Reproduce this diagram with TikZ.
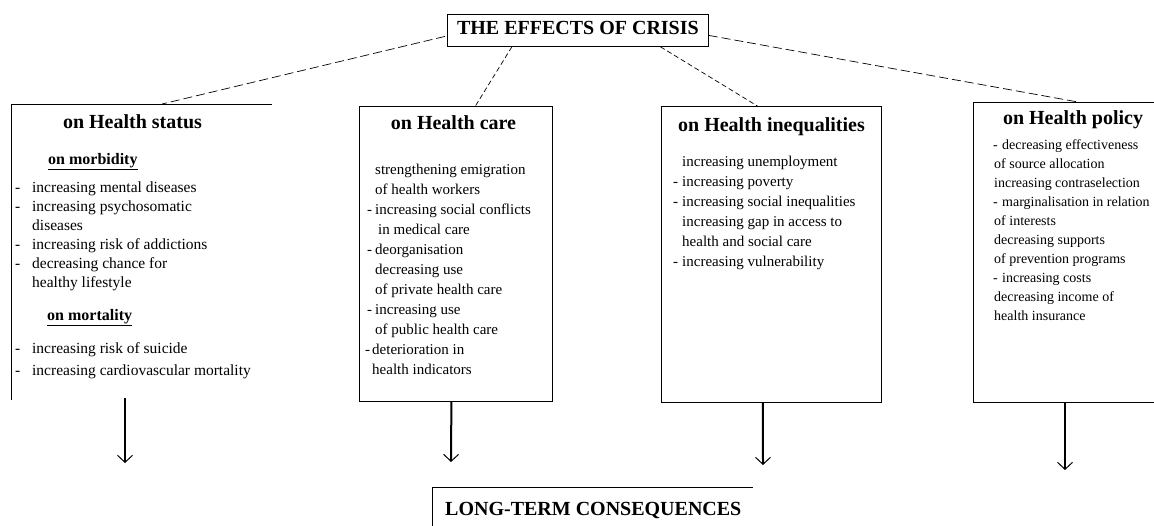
\documentclass[tikz,border=0pt]{standalone}
\usepackage{fontspec}
\setmainfont{Liberation Serif}
\usetikzlibrary{arrows.meta,calc}
\newcommand\dsh[1]{\llap{\makebox[#1][l]{-}}}
\begin{document}
\begin{tikzpicture}[x=1pt,y=-1pt,
  box/.style={draw, line width=0.8pt},
  hd/.style={font=\fontsize{20}{24}\selectfont\bfseries, inner sep=0pt, anchor=base},
  sub/.style={font=\fontsize{16}{19}\selectfont\bfseries, inner sep=0pt, anchor=base west},
  body/.style={anchor=north west, inner sep=0pt, align=left},
  conn/.style={line width=0.7pt, dash pattern=on 9pt off 4pt},
  connb/.style={line width=0.7pt, dash pattern=on 5pt off 3pt},
  arr/.style={line width=2pt, -{Straight Barb[length=7pt,width=15pt,line width=1pt]}},
]
\clip (0,0) rectangle (1154,525);
\fill[white] (0,0) rectangle (1154,525);

% title
\node[box, inner sep=0pt, minimum width=261pt, minimum height=32pt, anchor=north west,
      font=\fontsize{20}{24}\selectfont\bfseries, text height=14pt, text depth=5pt] (t) at (447,14) {THE EFFECTS OF CRISIS};

% box 1 (open frame)
\coordinate (b1tl) at (11,104);
\coordinate (b1tr) at (272,104);
\coordinate (b1bl) at (11,400);
\coordinate (b1c) at (162,104);
\draw[line width=0.8pt] (b1bl) -- (b1tl) -- (b1tr);
\node[hd] (h1) at (132.5,128) {on Health status};
\node[sub] (s1) at (48,164) {\underline{on morbidity}};
\node[body, font=\fontsize{15.5}{19}\selectfont] (l1) at (32,179) {\strut\dsh{17pt}increasing mental diseases\\
\dsh{17pt}increasing psychosomatic\\
diseases\\
\dsh{17pt}increasing risk of addictions\\
\dsh{17pt}decreasing chance for\\
healthy lifestyle};
\node[sub] (s2) at (47,320) {\underline{on mortality}};
\node[body, font=\fontsize{15.5}{22}\selectfont] (m1) at (32,338) {\strut\dsh{17pt}increasing risk of suicide\\
\dsh{17pt}increasing cardiovascular mortality};

% box 2
\node[box, inner sep=0pt, minimum width=193pt, minimum height=295pt, anchor=north west] (b2) at (359,106) {};
\node[hd] (h2) at (453.5,129) {on Health care};
\node[body, font=\fontsize{15}{20}\selectfont] (l2) at (375,160.5) {\strut strengthening emigration\\
of health workers\\
\dsh{8pt}increasing social conflicts\\
\hspace*{3pt}in medical care\\
\dsh{8pt}deorganisation\\
decreasing use\\
of private health care\\
\dsh{8pt}increasing use\\
of public health care\\
\hspace*{-3pt}\dsh{7pt}deterioration in\\
\hspace*{-3pt}health indicators};

% box 3
\node[box, inner sep=0pt, minimum width=220pt, minimum height=296pt, anchor=north west] (b3) at (661,106) {};
\node[hd] (h3) at (771.5,131) {on Health inequalities};
\node[body, font=\fontsize{15}{20}\selectfont] (l3) at (682,152.5) {\strut increasing unemployment\\
\dsh{9pt}increasing poverty\\
\dsh{9pt}increasing social inequalities\\
increasing gap in access to\\
health and social care\\
\dsh{9pt}increasing vulnerability};

% box 4 (open on the right)
\coordinate (b4tl) at (973,102);
\coordinate (b4tr) at (1160,102);
\coordinate (b4bl) at (973,402);
\coordinate (b4br) at (1160,402);
\coordinate (b4c) at (1078,102);
\draw[line width=0.8pt] (b4tr) -- (b4tl) -- (b4bl) -- (b4br);
\node[hd] (h4) at (1073,124) {on Health policy};
\node[body, font=\fontsize{14}{19}\selectfont] (l4) at (994,135.5) {\strut\hspace*{8pt}\dsh{9pt}decreasing effectiveness\\
of source allocation\\
increasing contraselection\\
\hspace*{8pt}\dsh{9pt}marginalisation in relation\\
of interests\\
decreasing supports\\
of prevention programs\\
\hspace*{8pt}\dsh{9pt}increasing costs\\
decreasing income of\\
health insurance};

% bottom box
\coordinate (btl) at (432,487);
\coordinate (btr) at (753,487);
\coordinate (bbl) at (432,530);
\draw[line width=0.8pt] (bbl) -- (btl) -- (btr);
\node[font=\fontsize{20}{24}\selectfont\bfseries, inner sep=0pt, anchor=base west] (lt) at (445,515) {LONG-TERM CONSEQUENCES};

% connectors
\draw[conn] ($(t.west)+(-2,6)$) -- (b1c);
\draw[connb] ($(t.south)+(-66,0)$) -- ($(b2.north)+(19.5,0)$);
\draw[connb] ($(t.south)+(82.5,0)$) -- ($(b3.north)+(-14,0)$);
\draw[conn] ($(t.east)+(0,5)$) -- (b4c);

% arrows
\coordinate (a1s) at (125,398);
\coordinate (a1e) at (125,463);
\coordinate (a2e) at (451,462);
\coordinate (a3e) at (763,465);
\coordinate (a4s) at (1065,402);
\coordinate (a4e) at (1065,470);
\draw[arr] (a1s) -- (a1e);
\draw[arr] ($(b2.south)+(-4.5,0)$) -- (a2e);
\draw[arr] ($(b3.south)+(-8.5,0)$) -- (a3e);
\draw[arr] (a4s) -- (a4e);
\end{tikzpicture}
\end{document}
